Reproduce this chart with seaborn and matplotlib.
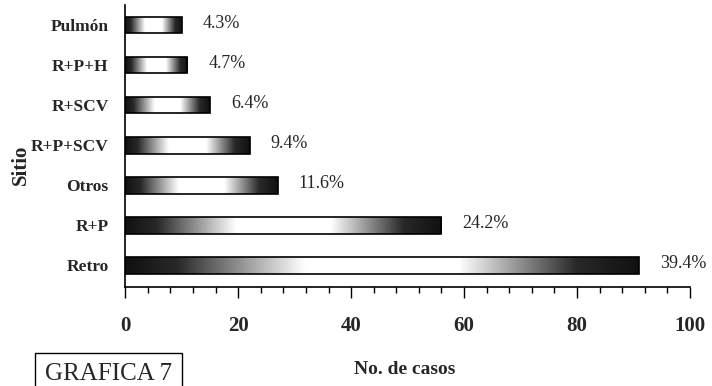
import numpy as np
import matplotlib
matplotlib.use("Agg")
import matplotlib.pyplot as plt
import seaborn as sns
import pandas as pd
from matplotlib.ticker import MultipleLocator
from matplotlib.colors import LinearSegmentedColormap

# Datos
sitios = ["Pulmón", "R+P+H", "R+SCV", "R+P+SCV", "Otros", "R+P", "Retro"]
casos = [10, 11, 15, 22, 27, 56, 91]
porcentajes = ["4.3%", "4.7%", "6.4%", "9.4%", "11.6%", "24.2%", "39.4%"]
x_ticks = [0, 20, 40, 60, 80, 100]

sns.set_theme(style="white")
plt.rcParams['font.family'] = ['Liberation Serif', 'DejaVu Serif']

df = pd.DataFrame({"Sitio": sitios, "Casos": casos})

fig = plt.figure(figsize=(7.12, 3.86), dpi=100)
ax = fig.add_axes([0.176, 0.256, 0.793, 0.731])
sns.barplot(data=df, x="Casos", y="Sitio", orient="h", color="white",
            saturation=1, edgecolor="black", linewidth=1.2, width=0.42, ax=ax)

# relleno degradado oscuro-blanco-oscuro en cada barra
cmap = LinearSegmentedColormap.from_list("gris", ["#111111", "#ffffff"])
t = np.linspace(0, 1, 200)
perfil = np.interp(t, [0, 0.1, 0.35, 0.65, 0.88, 1], [0, 0.1, 1, 1, 0.1, 0])
grad = perfil[np.newaxis, :]
for p in list(ax.patches):
    x0, y0, w, h = p.get_x(), p.get_y(), p.get_width(), p.get_height()
    p.set_facecolor("none")
    im = ax.imshow(grad, extent=[x0, x0 + w, y0 + h, y0], cmap=cmap,
                   vmin=0, vmax=1, aspect="auto", zorder=p.get_zorder() - 0.5,
                   interpolation="bilinear")
    im.set_clip_path(p)

ax.set_xlim(0, 100)
ax.set_ylim(6.55, -0.5)

for i, (v, txt) in enumerate(zip(casos, porcentajes)):
    ax.annotate(txt, (v, i), xytext=(15, 1), textcoords="offset points",
                va="center", ha="left", fontsize=13)

ax.set_xticks(x_ticks)
ax.set_xticklabels(x_ticks, fontsize=15, fontweight="bold")
ax.xaxis.set_minor_locator(MultipleLocator(4))
ax.tick_params(axis="x", which="major", bottom=True, direction="out",
               length=8, width=1, color="black", pad=13)
ax.tick_params(axis="x", which="minor", bottom=True, direction="out",
               length=4, width=1, color="black")
ax.tick_params(axis="y", left=False, pad=6)
for lbl in ax.get_yticklabels():
    lbl.set_fontsize(12.5)
    lbl.set_fontweight("bold")

for axis in ['bottom', 'left']:
    ax.spines[axis].set_linewidth(1.2)
    ax.spines[axis].set_color('black')
ax.spines['top'].set_visible(False)
ax.spines['right'].set_visible(False)

ax.set_ylabel("Sitio", fontsize=15, fontweight="bold")
ax.yaxis.set_label_coords(-0.168, 0.433)
ax.set_xlabel("No. de casos", fontsize=14, fontweight="bold")
ax.xaxis.set_label_coords(0.494, -0.262)

fig.text(45 / 712, 6 / 386, "GRAFICA 7", fontsize=18, va="baseline", ha="left",
         bbox=dict(facecolor="white", edgecolor="black", linewidth=1,
                   boxstyle="square,pad=0.4"))

plt.savefig("out.png", dpi=100)
